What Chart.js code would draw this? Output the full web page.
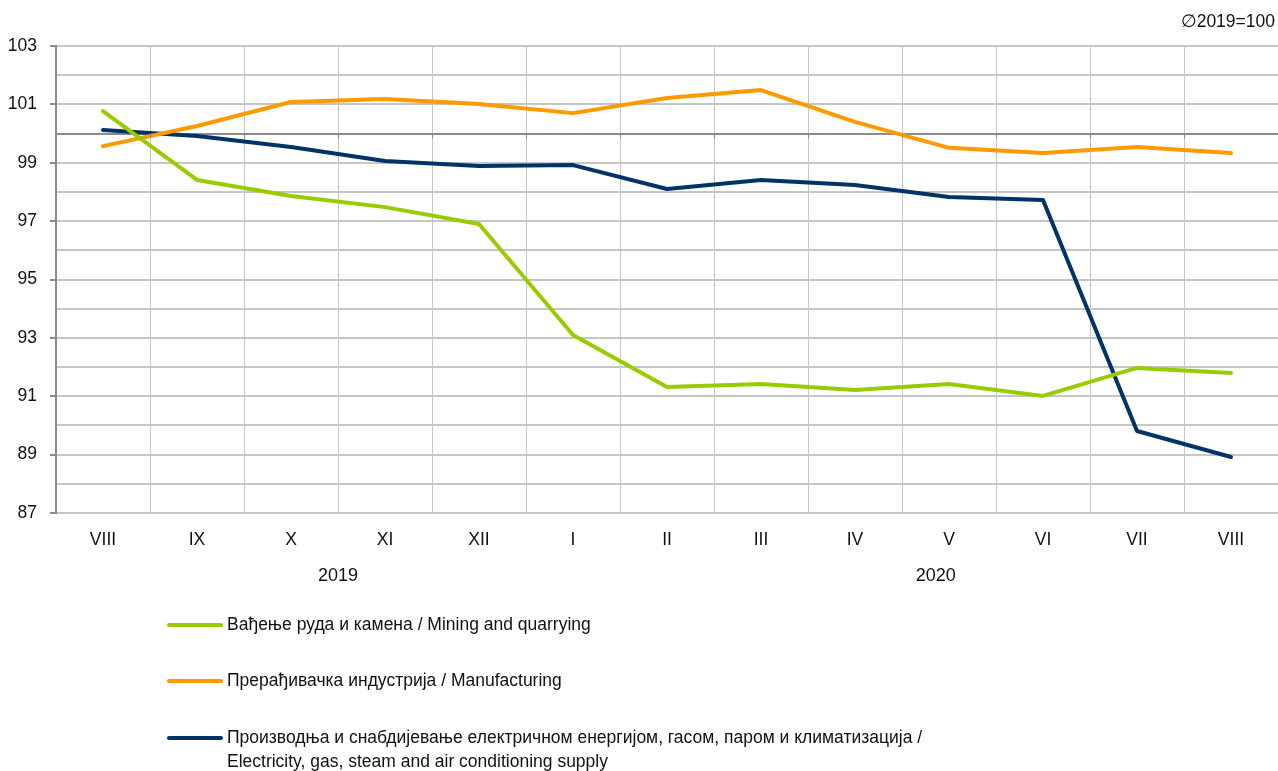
<!DOCTYPE html>
<html>
<head>
<meta charset="utf-8">
<script src="https://cdn.jsdelivr.net/npm/chart.js@4.4.1/dist/chart.umd.min.js"></script>
<style>
  html, body { margin: 0; padding: 0; background: #fff; }
  #chart { display: block; }
</style>
</head>
<body>
<canvas id="chart" width="1278" height="771"></canvas>
<script>
// Months Aug 2019 - Aug 2020
const months = ['VIII', 'IX', 'X', 'XI', 'XII', 'I', 'II', 'III', 'IV', 'V', 'VI', 'VII', 'VIII'];

// Industrial production indices, average 2019 = 100
const mining = [100.77, 98.41, 97.86, 97.48, 96.9, 93.1, 91.32, 91.42, 91.21, 91.42, 91.01, 91.97, 91.8];
const manufacturing = [99.57, 100.26, 101.08, 101.18, 101.01, 100.7, 101.22, 101.49, 100.4, 99.51, 99.33, 99.54, 99.33];
const electricity = [100.12, 99.92, 99.54, 99.06, 98.89, 98.92, 98.1, 98.41, 98.24, 97.83, 97.72, 89.81, 88.92];

const seriesNames = [
  ['Вађење руда и камена / Mining and quarrying'],
  ['Прерађивачка индустрија / Manufacturing'],
  ['Производња и снабдијевање електричном енергијом, гасом, паром и климатизација /',
   'Electricity, gas, steam and air conditioning supply'],
];

// Year captions under the month labels (position in category index units)
const years = [
  { text: '2019', at: 2.5 },
  { text: '2020', at: 8.86 },
];

const note = '\u22052019=100';

const FONT = '"Liberation Sans", Arial, sans-serif';
const gridGray = '#c6c6c6';
const axisGray = '#8c8c8c';

// Extra drawing: years, note in the corner, ticks on the 100 line, legend
const extras = {
  id: 'extras',
  afterDraw(chart) {
    const { ctx, scales: { x, y } } = chart;
    ctx.save();

    // small ticks where the category axis crosses at 100
    const y100 = y.getPixelForValue(100);
    const step = x.getPixelForValue(1) - x.getPixelForValue(0);
    ctx.strokeStyle = axisGray;
    ctx.lineWidth = 1;
    for (let i = 0; i < months.length; i++) {
      const px = Math.round(x.getPixelForValue(i) - step / 2) + 0.5;
      ctx.beginPath();
      ctx.moveTo(px, y100);
      ctx.lineTo(px, y100 + 5);
      ctx.stroke();
    }

    ctx.fillStyle = '#111';
    ctx.font = '18px ' + FONT;
    ctx.textAlign = 'center';
    ctx.textBaseline = 'middle';
    years.forEach(yr => {
      ctx.fillText(yr.text, x.getPixelForValue(yr.at), 576);
    });

    ctx.font = '17.5px ' + FONT;
    ctx.textAlign = 'right';
    ctx.fillText(note, 1275, 22);

    // legend
    const rows = [625, 681, 738];
    ctx.textAlign = 'left';
    chart.data.datasets.forEach((ds, i) => {
      ctx.strokeStyle = ds.borderColor;
      ctx.lineWidth = 4;
      ctx.lineCap = 'round';
      ctx.beginPath();
      ctx.moveTo(169, rows[i]);
      ctx.lineTo(221, rows[i]);
      ctx.stroke();
      seriesNames[i].forEach((line, k) => {
        ctx.fillText(line, 227, rows[i] + k * 24);
      });
    });
    ctx.restore();
  }
};

new Chart(document.getElementById('chart'), {
  type: 'line',
  data: {
    labels: months,
    datasets: [
      { label: seriesNames[0].join(' '), data: mining, borderColor: '#99cc00' },
      { label: seriesNames[1].join(' '), data: manufacturing, borderColor: '#ff9900' },
      { label: seriesNames[2].join(' '), data: electricity, borderColor: '#003366' },
    ].map(d => Object.assign(d, {
      borderWidth: 4,
      tension: 0,
      pointRadius: 0,
      fill: false,
      borderCapStyle: 'round',
      borderJoinStyle: 'round',
    })),
  },
  options: {
    responsive: false,
    animation: false,
    devicePixelRatio: 1,
    layout: { padding: { top: 46, right: 0, left: 0, bottom: 0 } },
    scales: {
      x: {
        offset: true,
        grid: {
          offset: true,
          color: gridGray,
          drawTicks: false,
        },
        border: { color: gridGray, width: 2 },
        ticks: {
          color: '#111',
          font: { family: FONT, size: 17.5 },
          padding: 17,
          maxRotation: 0,
        },
        afterFit: (scale) => { scale.height = 258; },
      },
      y: {
        min: 87,
        max: 103,
        ticks: {
          stepSize: 1,
          color: '#111',
          font: { family: FONT, size: 17.5 },
          padding: 13,
          callback: (v) => (Math.round(v) % 2 === 1 ? v : ''),
        },
        grid: {
          color: (c) => (c.tick && c.tick.value === 100 ? axisGray : gridGray),
          lineWidth: 2,
          tickLength: 6,
          tickColor: (c) => (c.tick && Math.round(c.tick.value) % 2 === 1 ? axisGray : 'rgba(0,0,0,0)'),
        },
        border: { color: axisGray, width: 2 },
        afterFit: (scale) => { scale.width = 56; },
      },
    },
    plugins: {
      legend: { display: false },
      tooltip: { enabled: false },
    },
  },
  plugins: [extras],
});
</script>
</body>
</html>
